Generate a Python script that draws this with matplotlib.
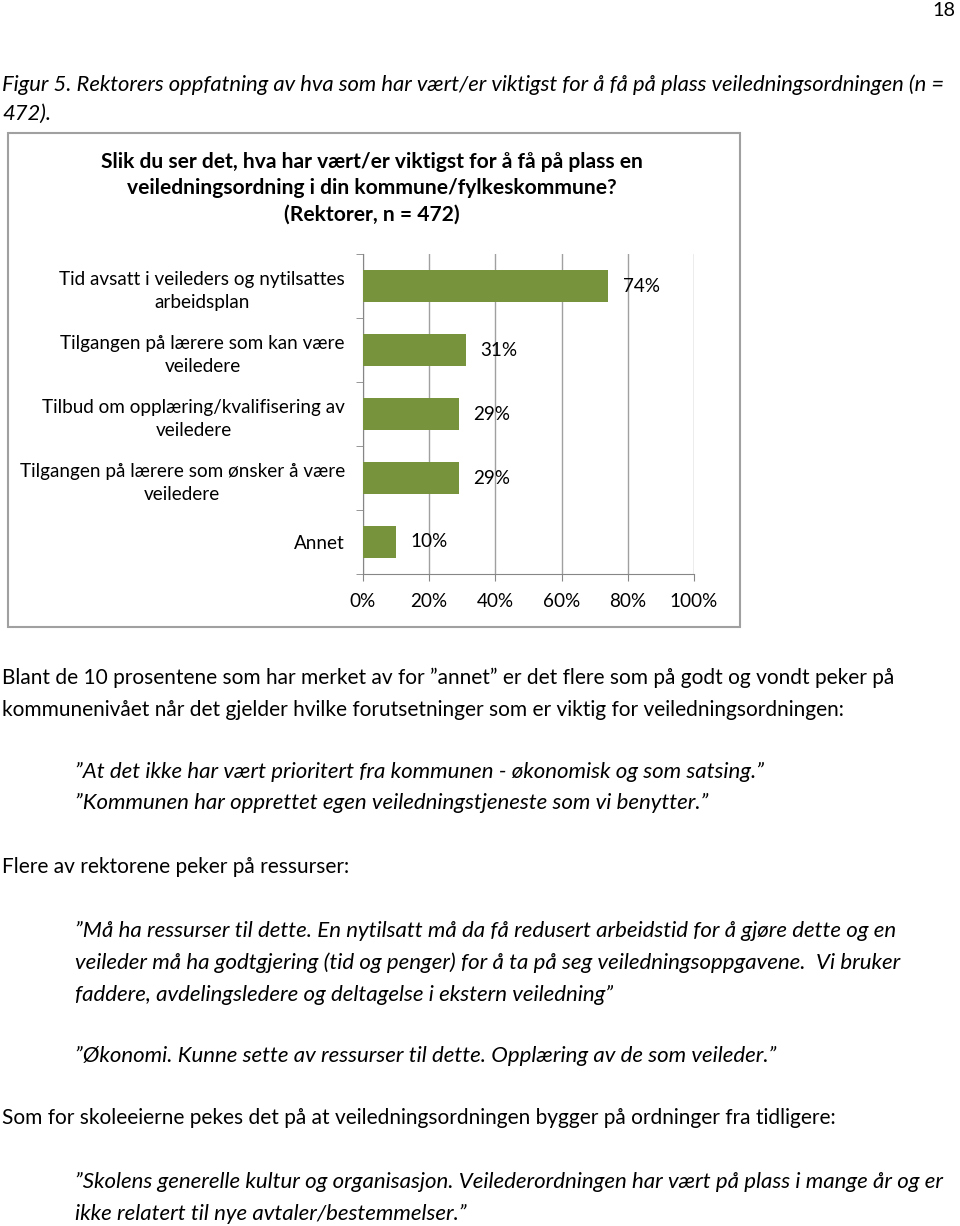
import matplotlib
matplotlib.use('Agg')
import matplotlib.pyplot as plt
from matplotlib.patches import Rectangle

plt.rcParams['font.family'] = ['Lato', 'DejaVu Sans']

# data
categories = ['Tid avsatt i veileders og nytilsattes\narbeidsplan',
              'Tilgangen på lærere som kan være\nveiledere',
              'Tilbud om opplæring/kvalifisering av\nveiledere',
              'Tilgangen på lærere som ønsker å være\nveiledere',
              'Annet']
values = [74, 31, 29, 29, 10]
xticks = [0, 20, 40, 60, 80, 100]

title = ('Slik du ser det, hva har vært/er viktigst for å få på plass en\n'
         'veiledningsordning i din kommune/fylkeskommune?\n'
         '(Rektorer, n = 472)')
caption = ['Figur 5. Rektorers oppfatning av hva som har vært/er viktigst for å få på plass veiledningsordningen (n =',
           '472).']

# (text, x, baseline y, italic)
body = [
    ('Blant de 10 prosentene som har merket av for \u201dannet\u201d er det flere som på godt og vondt peker på', 2, 684, False),
    ('kommunenivået når det gjelder hvilke forutsetninger som er viktig for veiledningsordningen:', 2, 716, False),
    ('\u201dAt det ikke har vært prioritert fra kommunen - økonomisk og som satsing.\u201d', 75, 778, True),
    ('\u201dKommunen har opprettet egen veiledningstjeneste som vi benytter.\u201d', 75, 809, True),
    ('Flere av rektorene peker på ressurser:', 2, 873, False),
    ('\u201dMå ha ressurser til dette. En nytilsatt må da få redusert arbeidstid for å gjøre dette og en', 75, 937, True),
    ('veileder må ha godtgjering (tid og penger) for å ta på seg veiledningsoppgavene.  Vi bruker', 75, 969, True),
    ('faddere, avdelingsledere og deltagelse i ekstern veiledning\u201d', 75, 1001, True),
    ('\u201dØkonomi. Kunne sette av ressurser til dette. Opplæring av de som veileder.\u201d', 75, 1062, True),
    ('Som for skoleeierne pekes det på at veiledningsordningen bygger på ordninger fra tidligere:', 2, 1124, False),
    ('\u201dSkolens generelle kultur og organisasjon. Veilederordningen har vært på plass i mange år og er', 75, 1188, True),
    ('ikke relatert til nye avtaler/bestemmelser.\u201d', 75, 1220, True),
]

W, H = 960, 1226
fig = plt.figure(figsize=(W / 100, H / 100), dpi=100)
renderer = fig.canvas.get_renderer()


def fy(y):
    return 1 - y / H


def fit(text, width, **kw):
    # font size so that the text is about width pixels wide
    t = fig.text(0, 0, text, fontsize=10, **kw)
    w = t.get_window_extent(renderer).width
    t.remove()
    return 10 * width / w


fs_body = fit(body[0][0], 893)
fs_ital = fit(body[10][0], 870, style='italic')
fs_cap = fit(caption[0], 946, style='italic')
fs_lab = fit(categories[0].split('\n')[0], 285)
fs_title = fit(title.split('\n')[0], 543, weight='bold')

# page number
fig.text(955 / W, fy(16), '18', fontsize=fs_body * 0.95, ha='right', va='baseline')

# caption
fig.text(2 / W, fy(91), caption[0], fontsize=fs_cap, style='italic', va='baseline')
fig.text(2 / W, fy(120), caption[1], fontsize=fs_cap, style='italic', va='baseline')

# chart frame
fig.patches.append(Rectangle((8 / W, fy(627)), 732 / W, 494 / H, transform=fig.transFigure,
                             fill=False, ec='#a0a0a0', lw=1.5))
fig.text(372 / W, fy(188), title, fontsize=fs_title, weight='bold', ha='center', va='center',
         multialignment='center', linespacing=27.5 / (fs_title / 0.72 * 0.94))

ax = fig.add_axes([363 / W, fy(574), 331 / W, 320 / H])
ax.barh(range(len(values)), values, height=0.5, color='#77933C', zorder=3)
ax.set_xlim(0, 100)
ax.set_ylim(len(values) - 0.5, -0.5)
ax.set_xticks(xticks)
ax.set_xticklabels([f'{v}%' for v in xticks], fontsize=fs_lab)
ax.set_yticks(range(len(values)))
ax.set_yticklabels(categories, fontsize=fs_lab, multialignment='center',
                   linespacing=24 / (fs_lab / 0.72 * 0.85))
ax.set_yticks([i - 0.5 for i in range(len(values) + 1)], minor=True)
ax.tick_params(axis='y', which='major', length=0, pad=13)
ax.tick_params(axis='y', which='minor', length=5, color='#868686', direction='out')
ax.tick_params(axis='x', length=5, color='#868686', direction='out', pad=9)
ax.grid(axis='x', color='#a0a0a0', lw=1, zorder=0)
for s in ['top', 'right']:
    ax.spines[s].set_visible(False)
for s in ['left', 'bottom']:
    ax.spines[s].set_color('#868686')
for i, v in enumerate(values):
    ax.annotate(f'{v}%', (v, i), xytext=(10.5, 0), textcoords='offset points',
                ha='left', va='center', fontsize=fs_lab, zorder=4)

# body text
for text, x, y, ital in body:
    fig.text(x / W, fy(y), text, fontsize=fs_ital if ital else fs_body,
             style='italic' if ital else 'normal', va='baseline')

fig.savefig('out.png', dpi=100)
